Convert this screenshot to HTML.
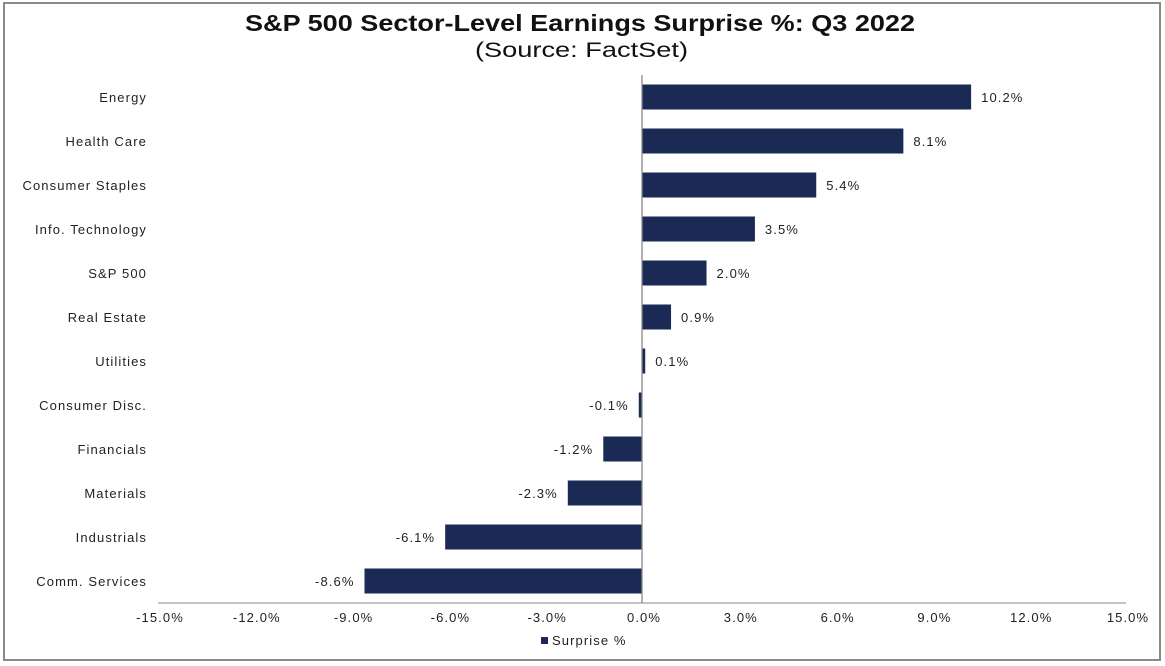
<!DOCTYPE html>
<html><head><meta charset="utf-8"><style>
body{margin:0;background:#fff;}
svg{display:block;font-family:"Liberation Sans",Arial,sans-serif;}
.sm{letter-spacing:1.1px;}
</style></head><body>
<svg id="chart" width="1165" height="666" viewBox="0 0 1165 666">
<rect x="4" y="3" width="1156" height="657" fill="#fff" stroke="#8a8a8a" stroke-width="2"/>
<text x="245" y="31" textLength="670" lengthAdjust="spacingAndGlyphs" font-size="23" font-weight="bold" fill="#111">S&amp;P 500 Sector-Level Earnings Surprise %: Q3 2022</text>
<text x="475" y="57" textLength="213" lengthAdjust="spacingAndGlyphs" font-size="21" fill="#111">(Source: FactSet)</text>
<g id="plot"></g>
<g>
<rect x="541" y="637" width="7" height="7" fill="#1a2a55"/>
<text class="sm" x="552" y="645" font-size="13" fill="#222">Surprise %</text>
</g>
</svg>
<script>
const categories=["Energy","Health Care","Consumer Staples","Info. Technology","S&P 500","Real Estate","Utilities","Consumer Disc.","Financials","Materials","Industrials","Comm. Services"];
const values=[10.2,8.1,5.4,3.5,2.0,0.9,0.1,-0.1,-1.2,-2.3,-6.1,-8.6];
const valueLabels=["10.2%","8.1%","5.4%","3.5%","2.0%","0.9%","0.1%","-0.1%","-1.2%","-2.3%","-6.1%","-8.6%"];
const ticks=[-15,-12,-9,-6,-3,0,3,6,9,12,15];
const tickLabels=["-15.0%","-12.0%","-9.0%","-6.0%","-3.0%","0.0%","3.0%","6.0%","9.0%","12.0%","15.0%"];
const NS="http://www.w3.org/2000/svg";
const g=document.getElementById('plot');
const x0=158,x1=1126,yTop=75,yBot=603;
const xs=v=>x0+(v+15)/30*(x1-x0);
const band=(yBot-yTop)/categories.length;
const yc=i=>yTop+band*(i+0.5);
function mk(tag,attrs){const e=document.createElementNS(NS,tag);for(const k in attrs)e.setAttribute(k,attrs[k]);g.appendChild(e);return e;}
categories.forEach((c,i)=>{
  const v=values[i],xa=xs(0),xb=xs(v);
  const r=mk('rect',{x:Math.min(xa,xb),y:yc(i)-12.5,width:Math.max(Math.abs(xb-xa),1.5),height:25,fill:'#1a2a55'});
  
  
  const t=mk('text',{class:'sm',x:v>=0?Math.max(xb,xa)+10:Math.min(xb,xa)-10,y:yc(i)+5,'text-anchor':v>=0?'start':'end','font-size':13,fill:'#222'});
  t.textContent=valueLabels[i];
  
  
  const l=mk('text',{class:'sm',x:147,y:yc(i)+5,'text-anchor':'end','font-size':13,fill:'#222'});
  l.textContent=c;
  
  
});
const ax=mk('line',{x1:x0,x2:x1,y1:yBot,y2:yBot,stroke:'#888','stroke-width':1});


const ay=mk('line',{x1:xs(0),x2:xs(0),y1:yTop,y2:yBot,stroke:'#888','stroke-width':1.3});


ticks.forEach((t,i)=>{
  const e=mk('text',{class:'sm',x:xs(t)+2,y:622,'text-anchor':'middle','font-size':13,fill:'#222'});
  e.textContent=tickLabels[i];
  
  
});
</script>
</body></html>
